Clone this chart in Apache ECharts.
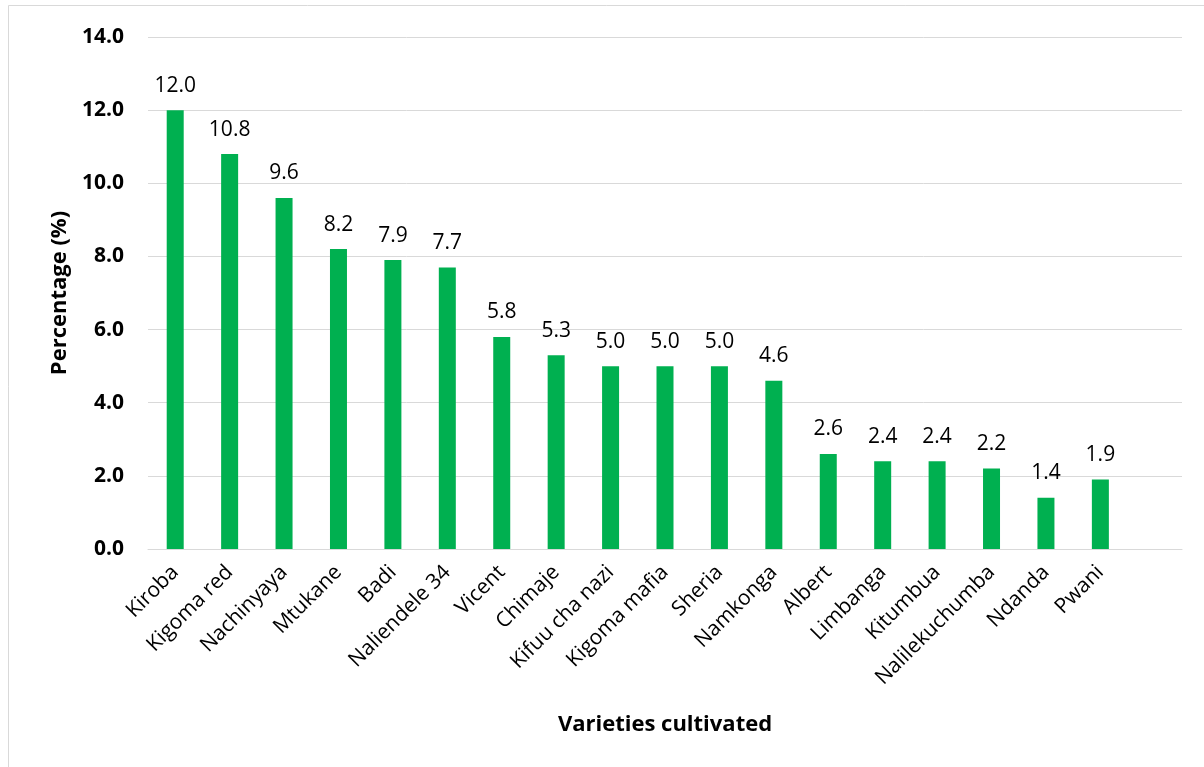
<!DOCTYPE html>
<html>
<head>
<meta charset="utf-8">
<title>Varieties cultivated</title>
<script src="https://cdn.jsdelivr.net/npm/echarts@6/dist/echarts.min.js"></script>
<style>
  html, body { margin: 0; padding: 0; background: #fff; }
  #chart { width: 1204px; height: 767px; }
</style>
</head>
<body>
<div id="chart"></div>
<script>
// Share of households cultivating each variety
const varieties = [
  'Kiroba', 'Kigoma red', 'Nachinyaya', 'Mtukane', 'Badi', 'Naliendele 34',
  'Vicent', 'Chimaje', 'Kifuu cha nazi', 'Kigoma mafia', 'Sheria', 'Namkonga',
  'Albert', 'Limbanga', 'Kitumbua', 'Nalilekuchumba', 'Ndanda', 'Pwani'
];
const percentages = [12.0, 10.8, 9.6, 8.2, 7.9, 7.7, 5.8, 5.3, 5.0, 5.0, 5.0, 4.6, 2.6, 2.4, 2.4, 2.2, 1.4, 1.9];
const yTicks = { min: 0, max: 14, interval: 2 };

// one empty slot at the end leaves room to the right of the last bar
const axisCategories = varieties.concat(['']);

const FONT = '"Open Sans", "Noto Sans", sans-serif';
const chart = echarts.init(document.getElementById('chart'), null, { renderer: 'canvas' });

chart.setOption({
  backgroundColor: '#ffffff',
  animation: false,
  graphic: [{
    type: 'rect',
    shape: { x: 8.5, y: 5.5, width: 1300, height: 900 },
    style: { fill: 'none', stroke: '#d9d9d9', lineWidth: 1 },
    silent: true
  }],
  grid: { left: 148, right: 22, top: 37, bottom: 218 },
  xAxis: {
    type: 'category',
    data: axisCategories,
    name: 'Varieties cultivated',
    nameLocation: 'middle',
    nameGap: 165,
    nameTextStyle: { fontFamily: FONT, fontSize: 22, fontWeight: 'bold', color: '#000' },
    axisLine: { show: true, lineStyle: { color: '#d9d9d9', width: 1 } },
    axisTick: { show: false },
    axisLabel: {
      interval: 0, rotate: 45, margin: 20,
      fontFamily: FONT, fontSize: 21, color: '#000'
    }
  },
  yAxis: {
    type: 'value',
    min: yTicks.min, max: yTicks.max, interval: yTicks.interval,
    name: 'Percentage (%)',
    nameLocation: 'middle',
    nameGap: 76,
    nameRotate: 90,
    nameTextStyle: { fontFamily: FONT, fontSize: 22, fontWeight: 'bold', color: '#000' },
    axisLine: { show: false },
    axisTick: { show: false },
    splitLine: { lineStyle: { color: '#d9d9d9', width: 1 } },
    axisLabel: {
      margin: 24,
      fontFamily: FONT, fontSize: 21, fontWeight: 'bold', color: '#000',
      formatter: v => v.toFixed(1)
    }
  },
  series: [{
    type: 'bar',
    data: percentages,
    barWidth: 17,
    itemStyle: { color: '#00B050' },
    label: {
      show: true, position: 'top', distance: 14,
      fontFamily: FONT, fontSize: 21, color: '#000',
      formatter: p => p.value.toFixed(1)
    }
  }]
});
</script>
</body>
</html>
